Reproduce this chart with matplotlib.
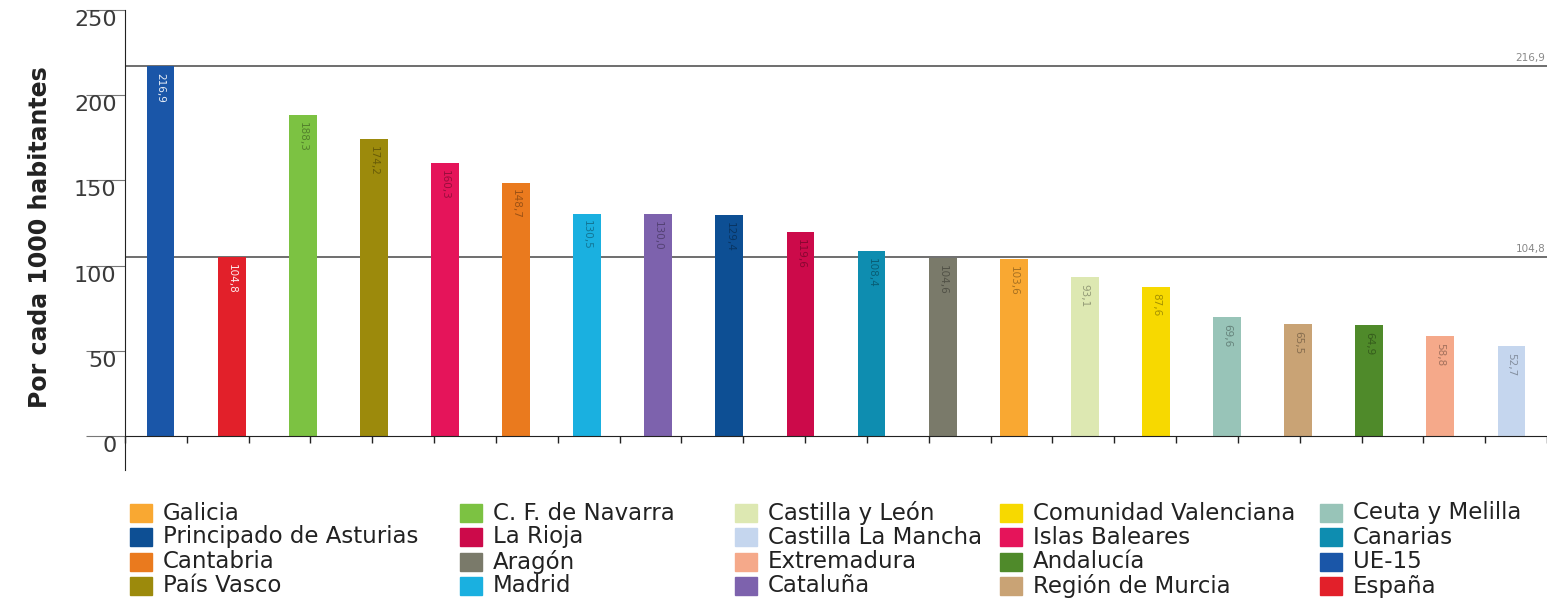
import numpy as np
import matplotlib
matplotlib.use("Agg")
import matplotlib.pyplot as plt
from matplotlib.patches import Rectangle
from matplotlib.colors import to_rgb

# bars, sorted as published
regions = ["UE-15", "España", "C. F. de Navarra", "País Vasco", "Islas Baleares",
           "Cantabria", "Madrid", "Cataluña", "Principado de Asturias", "La Rioja",
           "Canarias", "Aragón", "Galicia", "Castilla y León", "Comunidad Valenciana",
           "Ceuta y Melilla", "Región de Murcia", "Andalucía", "Extremadura",
           "Castilla La Mancha"]
values = [216.9, 104.8, 188.3, 174.2, 160.3, 148.7, 130.5, 130.0, 129.4, 119.6,
          108.4, 104.6, 103.6, 93.1, 87.6, 69.6, 65.5, 64.9, 58.8, 52.7]
colors = ["#1a56a8", "#e2202a", "#7cc242", "#9c8a0c", "#e5145a",
          "#ea7a1e", "#1ab0e0", "#7d62ad", "#0d4f94", "#cc0a4a",
          "#0e8db0", "#7a7a6a", "#f9a832", "#dde8b2", "#f7d900",
          "#98c4b8", "#c9a375", "#4f8a2a", "#f5a98a", "#c5d6ee"]

# reference lines (UE-15 and España)
ref_lines = [216.9, 104.8]

# legend layout: columns as printed under the chart
legend_cols = [
    ["Galicia", "Principado de Asturias", "Cantabria", "País Vasco"],
    ["C. F. de Navarra", "La Rioja", "Aragón", "Madrid"],
    ["Castilla y León", "Castilla La Mancha", "Extremadura", "Cataluña"],
    ["Comunidad Valenciana", "Islas Baleares", "Andalucía", "Región de Murcia"],
    ["Ceuta y Melilla", "Canarias", "UE-15", "España"],
]
legend_x = [130, 460, 735, 1000, 1320]


def fmt(v):
    return f"{v:.1f}".replace(".", ",")


def darker(c, f=0.45):
    r, g, b = to_rgb(c)
    return (r * f, g * f, b * f)


W, H = 1547, 602
fig = plt.figure(figsize=(W / 100, H / 100), dpi=100)
ax = fig.add_axes([125 / W, 1 - 470 / H, 1 - 125 / W, 460 / H])

x = np.arange(len(values))
ax.bar(x, values, width=0.39, color=colors, zorder=2)

for v in ref_lines:
    ax.axhline(v, color="#6e6e6e", lw=1.4, zorder=1)
    ax.text(19.48, v + 2, fmt(v), ha="right", va="bottom", fontsize=7.5, color="#888888")

for i, v in enumerate(values):
    tc = "white" if i < 2 else darker(colors[i])
    ax.text(x[i], v - 4, fmt(v), rotation=270, ha="center", va="top",
            fontsize=7.5, color=tc, alpha=0.9 if i < 2 else 0.6, zorder=3)

ax.set_xlim(-0.5, 19.5)
ax.set_ylim(-20, 250)
for s in ["top", "right"]:
    ax.spines[s].set_visible(False)
ax.spines["bottom"].set_position(("data", 0))
ax.spines["bottom"].set_color("#222222")
ax.spines["left"].set_color("#222222")

ax.set_xticks(np.linspace(-0.5, 19.5, 24))
ax.set_xticklabels([])
ax.tick_params(axis="x", length=5, width=1, color="#222222", direction="out")

ax.set_yticks([0, 50, 100, 150, 200, 250])
ax.tick_params(axis="y", length=28, width=0.8, color="#777777", pad=-22,
               labelsize=16, labelcolor="#3a3a3a")
for lab in ax.get_yticklabels():
    lab.set_va("top")

fig.text(40 / W, 1 - 237 / H, "Por cada 1000 habitantes", rotation=90,
         ha="center", va="center", fontsize=17, fontweight="bold", color="#222222")

# legend drawn by hand so the columns sit where they do in print
color_of = dict(zip(regions, colors))
row_y = [513, 537, 562, 586]
for cx, names in zip(legend_x, legend_cols):
    for ry, name in zip(row_y, names):
        fig.patches.append(Rectangle(((cx) / W, 1 - (ry + 9) / H), 22 / W, 18 / H,
                                     transform=fig.transFigure, color=color_of[name]))
        fig.text((cx + 33) / W, 1 - ry / H, name, ha="left", va="center",
                 fontsize=16.5, color="#222222")

fig.savefig("out.png", dpi=100)
